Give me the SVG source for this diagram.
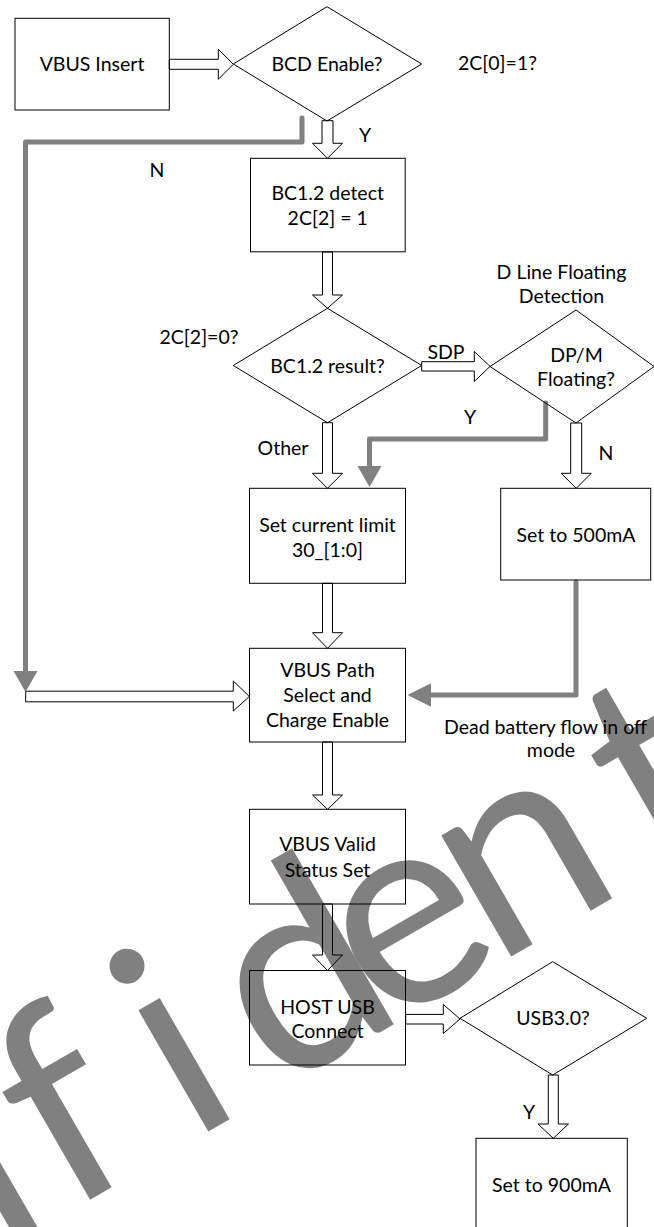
<svg xmlns="http://www.w3.org/2000/svg" width="654" height="1227" viewBox="0 0 654 1227">
<style>
.box{fill:none;stroke:#000;stroke-width:1}
.blk{fill:none;stroke:#000;stroke-width:1;stroke-linejoin:miter}
.gl{fill:none;stroke:#808080;stroke-width:5;stroke-linejoin:round;stroke-linecap:round}
.gh{fill:#808080;stroke:none}
text{font-family:Lato,"Open Sans","Liberation Sans",sans-serif;font-size:19.5px;fill:#000}
.c{text-anchor:middle}
.wm{font-size:276px;fill:#808080;text-anchor:middle}
</style>
<rect width="654" height="1227" fill="#fff"/>
<g id="watermark">
<text class="wm" transform="rotate(-30)" x="-900 -770 -640 -502 -373 -229 -110 22 178 282 400 500" y="1084">Confidential</text>
</g>
<g id="connectors">
<polygon class="blk" points="169.3,59.3 218.3,59.3 218.3,49.3 233.3,64.3 218.3,79.3 218.3,69.3 169.3,69.3"/>
<polygon class="blk" points="322,120.7 333,120.7 333,143.3 342.5,143.3 327.5,158.3 312.5,143.3 322,143.3"/>
<polygon class="blk" points="322.5,252 332.5,252 332.5,295 342.5,295 327.5,308.3 312.5,295 322.5,295"/>
<polygon class="blk" points="421.7,361.7 474.3,361.7 474.3,351.5 490,366.4 474.3,381.5 474.3,371 421.7,371"/>
<polygon class="blk" points="570.7,423 581.7,423 581.7,473.3 591.2,473.3 576.2,488.3 561.2,473.3 570.7,473.3"/>
<polygon class="blk" points="322.5,422.7 332.5,422.7 332.5,473.3 342.5,473.3 327.5,488.3 312.5,473.3 322.5,473.3"/>
<polygon class="blk" points="322.5,583.3 332.5,583.3 332.5,632.7 342.5,632.7 327.5,648.3 312.5,632.7 322.5,632.7"/>
<polygon class="blk" points="322.5,742 332.5,742 332.5,795 342.5,795 327.5,809.3 312.5,795 322.5,795"/>
<polygon class="blk" points="322.5,904 332.5,904 332.5,955 342.5,955 327.5,970.5 312.5,955 322.5,955"/>
<polygon class="blk" points="405.7,1014.4 443.3,1014.4 443.3,1004.5 460,1019 443.3,1033.5 443.3,1024 405.7,1024"/>
<polygon class="blk" points="548.3,1075 558.3,1075 558.3,1124 568.5,1124 553.3,1138.3 538,1124 548.3,1124"/>
<polygon class="blk" points="25.7,691.2 233.3,691.2 233.3,681 249.3,696.5 233.3,711 233.3,701.8 25.7,701.8"/>
<path class="gl" d="M302,118 V142 H25.5 V672"/>
<polygon class="gh" points="13.5,671 37.5,671 25.5,692"/>
<path class="gl" d="M545.7,403 V439 H369.5 V467"/>
<polygon class="gh" points="357.5,466 381.5,466 369.5,487"/>
<path class="gl" d="M576,582 V695 H431"/>
<polygon class="gh" points="431,683.3 431,706.7 407.5,695"/>
</g>
<g id="vbus-insert"><rect class="box" x="15" y="18.3" width="154.3" height="91.7"/><text class="c" x="92" y="71">VBUS Insert</text></g>
<g id="bcd-enable"><polygon class="box" points="327,6.7 421.7,64 327,121 233.3,64"/><text class="c" x="327" y="71">BCD Enable?</text></g>
<g id="bcd-note"><text x="458" y="70">2C[0]=1?</text></g>
<g id="label-y1"><text class="c" x="365" y="142">Y</text></g>
<g id="label-n1"><text class="c" x="157" y="177">N</text></g>
<g id="bc12-detect"><rect class="box" x="250.5" y="158.3" width="154.7" height="93.5"/><text class="c" x="327.7" y="200">BC1.2 detect</text><text class="c" x="327.7" y="225">2C[2] = 1</text></g>
<g id="bc12-result"><polygon class="box" points="327.5,308.3 421.7,365.5 327.5,422.7 233.3,365.5"/><text class="c" x="327.5" y="373">BC1.2 result?</text></g>
<g id="result-note"><text class="c" x="199" y="344">2C[2]=0?</text></g>
<g id="label-sdp"><text class="c" x="446" y="358.7">SDP</text></g>
<g id="dline-note"><text class="c" x="561.5" y="278.7">D Line Floating</text><text class="c" x="561.5" y="303">Detection</text></g>
<g id="dpm-floating"><polygon class="box" points="576,310 654,366.5 576,423 490,366.5"/><text class="c" x="576.5" y="362">DP/M</text><text class="c" x="576" y="386">Floating?</text></g>
<g id="label-y2"><text class="c" x="470" y="423.7">Y</text></g>
<g id="label-other"><text class="c" x="283" y="455">Other</text></g>
<g id="label-n2"><text class="c" x="606" y="460">N</text></g>
<g id="set-current"><rect class="box" x="249.5" y="488.3" width="156" height="95"/><text class="c" x="327.5" y="532">Set current limit</text><text class="c" x="327.5" y="557">30_[1:0]</text></g>
<g id="set-500"><rect class="box" x="500.7" y="488.3" width="150" height="91.7"/><text class="c" x="576" y="542">Set to 500mA</text></g>
<g id="vbus-path"><rect class="box" x="249.5" y="648.3" width="156" height="93.7"/><text class="c" x="327.5" y="677">VBUS Path</text><text class="c" x="327.5" y="702">Select and</text><text class="c" x="327.5" y="727">Charge Enable</text></g>
<g id="dead-battery-note"><text class="c" x="545.5" y="733.7">Dead battery flow in off</text><text class="c" x="551" y="757">mode</text></g>
<g id="vbus-valid"><rect class="box" x="249.5" y="809.3" width="156" height="94.7"/><text class="c" x="327.5" y="851">VBUS Valid</text><text class="c" x="327.5" y="876.5">Status Set</text></g>
<g id="host-usb"><rect class="box" x="249.5" y="970.5" width="156" height="94.5"/><text class="c" x="327.5" y="1014">HOST USB</text><text class="c" x="327.5" y="1038">Connect</text></g>
<g id="usb30"><polygon class="box" points="552.7,961.7 646.7,1018.3 552.7,1075 460,1018.3"/><text class="c" x="553" y="1025">USB3.0?</text></g>
<g id="label-y3"><text class="c" x="529" y="1118.7">Y</text></g>
<g id="set-900"><rect class="box" x="476" y="1138.3" width="151.3" height="95"/><text class="c" x="551.5" y="1192">Set to 900mA</text></g>
</svg>
